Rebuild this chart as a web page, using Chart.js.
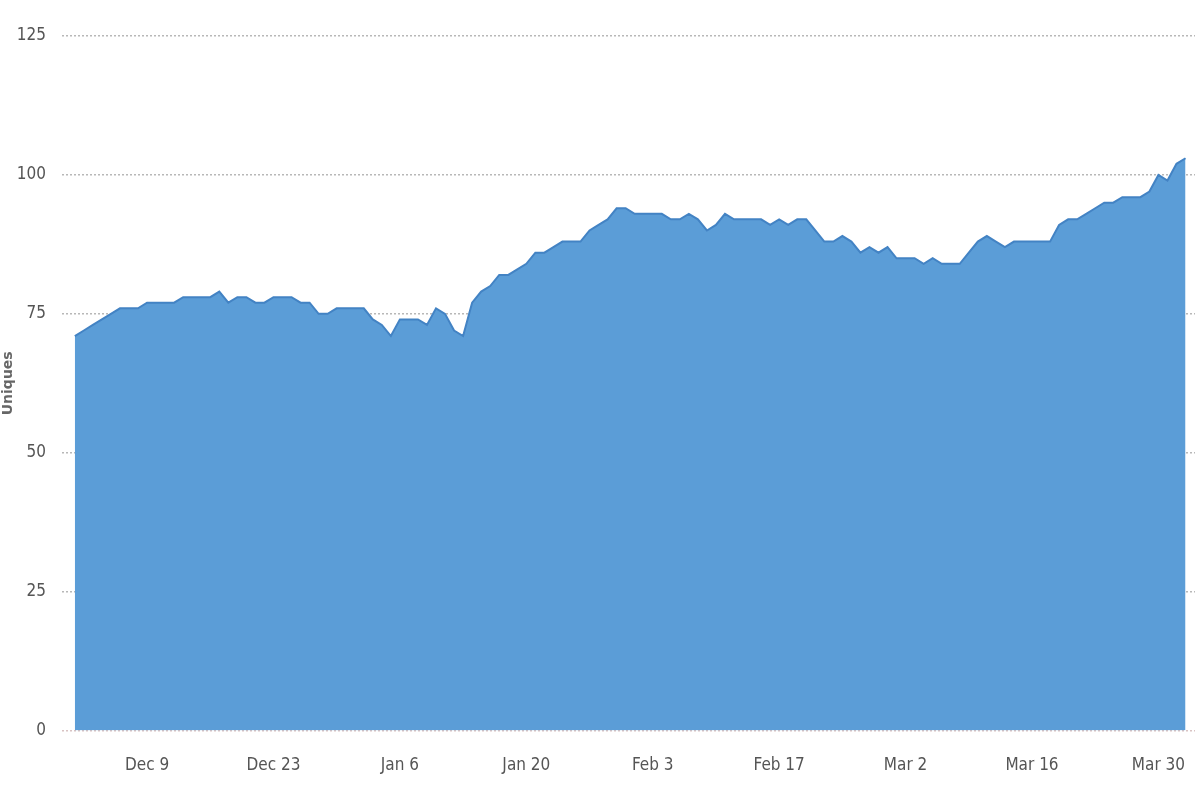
<!DOCTYPE html>
<html>
<head>
<meta charset="utf-8">
<script src="https://cdn.jsdelivr.net/npm/chart.js@4"></script>
<style>
  html, body { margin: 0; padding: 0; background: #fff; }
  #wrap { width: 1200px; height: 800px; }
</style>
</head>
<body>
<div id="wrap"><canvas id="chartUniques"></canvas></div>
<script>
// Dzienne wartości od 1 grudnia (dzień 0) do 2 kwietnia (dzień 123)
const days = Array.from({ length: 124 }, (_, i) => i);

const uniques = [
    71, 72, 73, 74, 75, 76, 76, 76, 77, 77,
    77, 77, 78, 78, 78, 78, 79, 77, 78, 78,
    77, 77, 78, 78, 78, 77, 77, 75, 75, 76,
    76, 76, 76, 74, 73, 71, 74, 74, 74, 73,
    76, 75, 72, 71, 77, 79, 80, 82, 82, 83,
    84, 86, 86, 87, 88, 88, 88, 90, 91, 92,
    94, 94, 93, 93, 93, 93, 92, 92, 93, 92,
    90, 91, 93, 92, 92, 92, 92, 91, 92, 91,
    92, 92, 90, 88, 88, 89, 88, 86, 87, 86,
    87, 85, 85, 85, 84, 85, 84, 84, 84, 86,
    88, 89, 88, 87, 88, 88, 88, 88, 88, 91,
    92, 92, 93, 94, 95, 95, 96, 96, 96, 97,
    100, 99, 102, 103,
];

const tickDays = [8, 22, 36, 50, 64, 78, 92, 106, 120];
const tickLabels = ['Dec 9', 'Dec 23', 'Jan 6', 'Jan 20', 'Feb 3', 'Feb 17', 'Mar 2', 'Mar 16', 'Mar 30'];

const yTicks = [0, 25, 50, 75, 100, 125];

const FONT = '"DejaVu Sans Condensed", "DejaVu Sans", sans-serif';

new Chart(document.getElementById('chartUniques'), {
    type: 'line',
    data: {
        datasets: [{
            label: 'Uniques',
            data: days.map((d, i) => ({ x: d, y: uniques[i] })),
            borderColor: '#4383c4',
            backgroundColor: '#5b9dd7',
            fill: 'origin',
            tension: 0,
            pointRadius: 0,
            borderWidth: 2,
        }],
    },
    options: {
        responsive: true,
        maintainAspectRatio: false,
        animation: false,
        layout: { autoPadding: false, padding: { top: 36, right: 5, bottom: 7, left: 0 } },
        scales: {
            x: {
                type: 'linear',
                min: -1.42,
                max: 124.05,
                afterBuildTicks: (scale) => {
                    scale.ticks = tickDays.map((v) => ({ value: v }));
                },
                afterFit: (scale) => {
                    scale.paddingLeft = 0;
                    scale.paddingRight = 0;
                },
                ticks: {
                    color: '#555',
                    font: { family: FONT, size: 17 },
                    padding: 17,
                    maxRotation: 0,
                    autoSkip: false,
                    callback: (v) => tickLabels[tickDays.indexOf(v)] ?? '',
                },
                grid: { display: false },
                border: { display: false },
            },
            y: {
                min: 0,
                max: 125,
                afterBuildTicks: (scale) => {
                    scale.ticks = yTicks.map((v) => ({ value: v }));
                },
                ticks: {
                    color: '#555',
                    font: { family: FONT, size: 17 },
                    padding: 16,
                },
                grid: {
                    color: (ctx) => (ctx.tick && ctx.tick.value === 0 ? '#d9c3c3' : '#b8b8b8'),
                    lineWidth: 1.5,
                    drawTicks: false,
                },
                border: { display: false, dash: [2, 2] },
                title: {
                    display: true,
                    text: 'Uniques',
                    color: '#666',
                    font: { family: '"DejaVu Sans", sans-serif', size: 14, weight: 'bold' },
                    padding: { top: 0, bottom: -16 },
                },
            },
        },
        plugins: {
            legend: { display: false },
            tooltip: { enabled: false },
        },
    },
});
</script>
</body>
</html>
